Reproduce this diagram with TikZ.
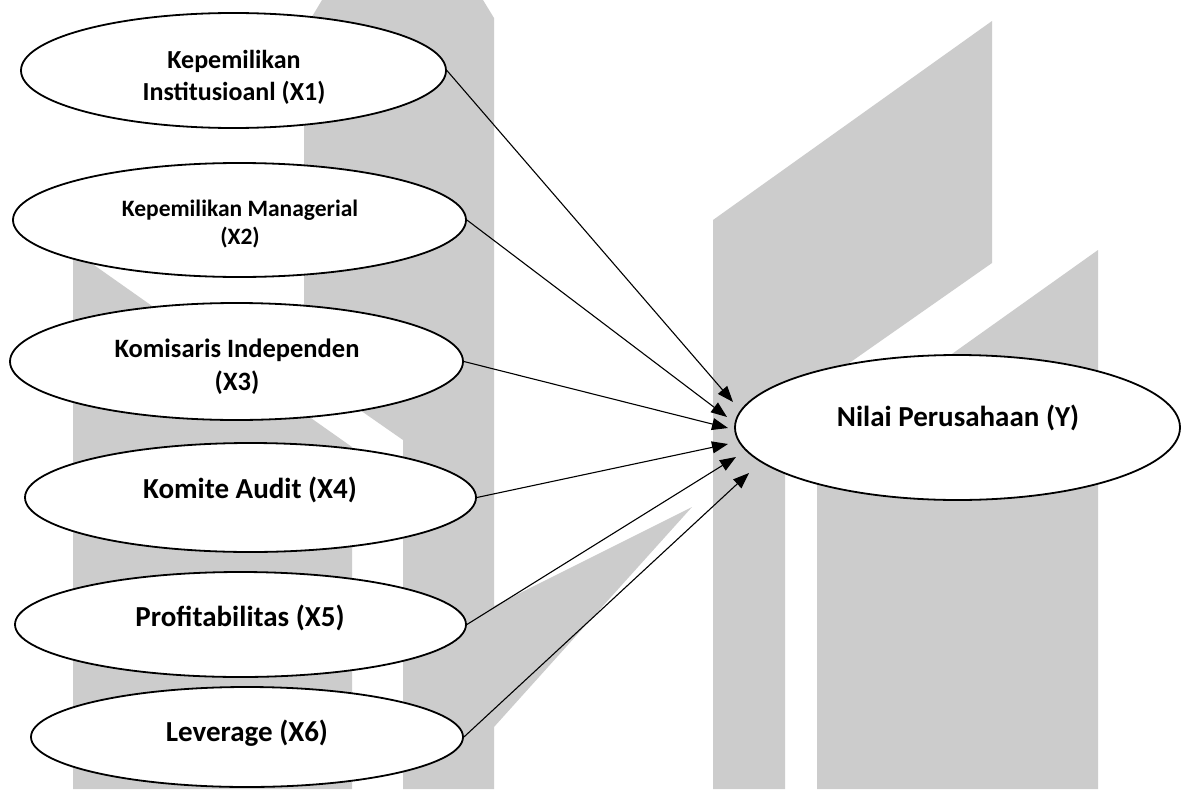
\documentclass[tikz,border=0pt]{standalone}
\usepackage{fontspec}
\setmainfont{Carlito}
\usetikzlibrary{arrows.meta,shapes.geometric}
\definecolor{wm}{gray}{0.8}
\begin{document}
\begin{tikzpicture}[x=1pt,y=-1pt,
  oval/.style={draw=black, line width=1.8pt, fill=white, ellipse, inner sep=0pt},
  lbl/.style={align=center, inner sep=0pt, text=black},
  link/.style={draw=black, line width=1.1pt, -{Triangle[length=16pt,width=12pt]}},
  wmark/.style={fill=wm, draw=none}]
\useasboundingbox (0,0) rectangle (1182,789);
\fill[white] (0,0) rectangle (1182,789);
% watermark logo
\fill[wmark] (304,30) -- (322,0) -- (483,0) -- (494,18) -- (494,789) -- (403,789) -- (403,440) -- (304,371) -- cycle;
\fill[wmark] (73,258) -- (84,258) -- (352,447) -- (352,789) -- (73,789) -- cycle;
\fill[wmark] (692,507) -- (494,606) -- (494,727) -- cycle;
\fill[wmark] (713,220) -- (992,21) -- (992,263) -- (785,408) -- (785,789) -- (713,789) -- cycle;
\fill[wmark] (1098,250) -- (1098,789) -- (817,789) -- (817,450) -- cycle;
% ellipses
\node[oval, minimum width=425pt, minimum height=115pt] (x1) at (233.5,70.5) {};
\node[oval, minimum width=453pt, minimum height=114pt] (x2) at (239.5,220) {};
\node[oval, minimum width=453pt, minimum height=117pt] (x3) at (236.5,361.5) {};
\node[oval, minimum width=451pt, minimum height=109pt] (x4) at (250.5,497.5) {};
\node[oval, minimum width=451pt, minimum height=105pt] (x5) at (240.5,624.5) {};
\node[oval, minimum width=432pt, minimum height=100pt] (x6) at (247,737) {};
\node[oval, minimum width=445pt, minimum height=145pt] (y) at (957.5,427.5) {};
% labels
\node[lbl, font=\bfseries\fontsize{26}{32}\selectfont] (x1t) at (234,77) {Kepemilikan\\Institusioanl (X1)};
\node[lbl, font=\bfseries\fontsize{23.5}{28.5}\selectfont] (x2t) at (240,224) {Kepemilikan Managerial\\(X2)};
\node[lbl, font=\bfseries\fontsize{26.5}{33}\selectfont] (x3t) at (237,366.5) {Komisaris Independen\\(X3)};
\node[lbl, font=\bfseries\fontsize{29}{35}\selectfont] (x4t) at (250,490) {Komite Audit (X4)};
\node[lbl, font=\bfseries\fontsize{29}{35}\selectfont] (x5t) at (240,618) {Profitabilitas (X5)};
\node[lbl, font=\bfseries\fontsize{29}{35}\selectfont] (x6t) at (247,733) {Leverage (X6)};
\node[lbl, font=\bfseries\fontsize{29}{35}\selectfont] (yt) at (958,418) {Nilai Perusahaan (Y)};
% arrow tips
\coordinate (t1) at (733,402);
\coordinate (t2) at (727,417);
\coordinate (t3) at (728,428);
\coordinate (t4) at (728,444);
\coordinate (t5) at (736,457);
\coordinate (t6) at (749,473);
% connectors
\draw[link] (x1.east) -- (t1);
\draw[link] (x2.east) -- (t2);
\draw[link] (x3.east) -- (t3);
\draw[link] (x4.east) -- (t4);
\draw[link] (x5.east) -- (t5);
\draw[link] (x6.east) -- (t6);
\end{tikzpicture}
\end{document}
